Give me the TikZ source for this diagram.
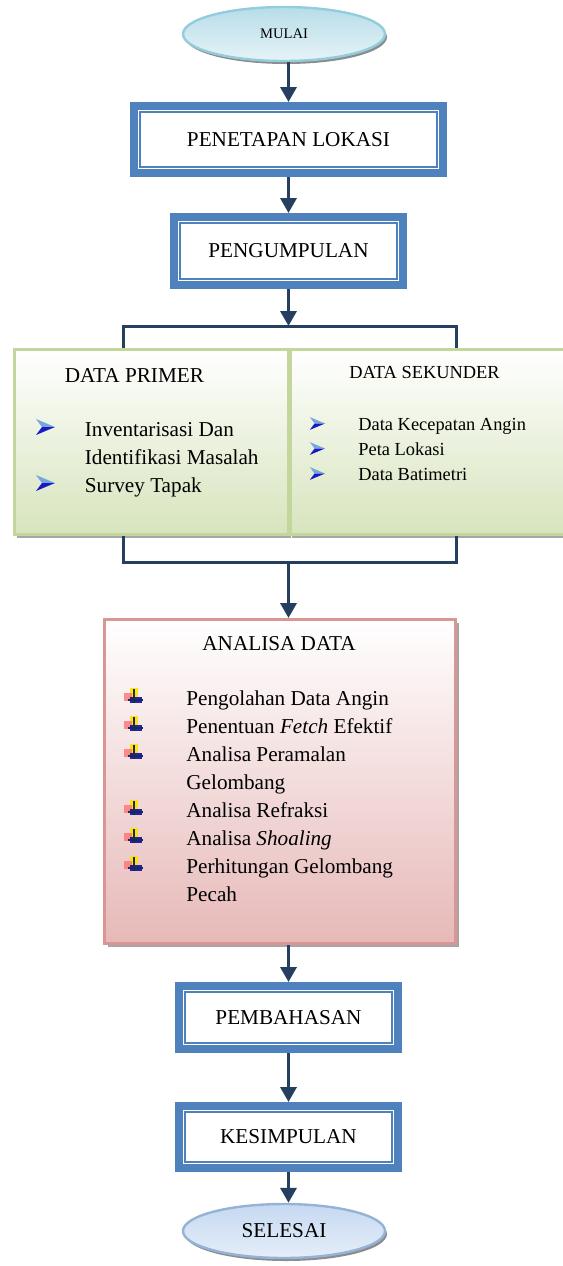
\documentclass[tikz,border=0pt]{standalone}
\usepackage{fontspec}
\setmainfont{Liberation Serif}
\usetikzlibrary{arrows.meta,shapes.geometric,calc,shadows}

\definecolor{navy}{HTML}{243F60}
\definecolor{frameblue}{HTML}{4F81BD}
\definecolor{greenline}{HTML}{C3D69B}
\definecolor{greenfill}{HTML}{D7E4BD}
\definecolor{pinkline}{HTML}{D99694}
\definecolor{pinkfill}{HTML}{E6B9B8}
\definecolor{startline}{HTML}{93CDDD}
\definecolor{startfill}{HTML}{B7DDE8}
\definecolor{endline}{HTML}{95B3D7}
\definecolor{endfill}{HTML}{C6D9F1}

\newcommand\txtmain{\fontsize{10.6}{12.7}\selectfont}
\newcommand\txtsmall{\fontsize{9.2}{11}\selectfont}
\newcommand\txttiny{\fontsize{7.3}{9}\selectfont}

\tikzset{
  flow/.style={draw=navy, line width=1.75pt, -{Triangle[width=8pt,length=7.5pt]}},
  bracket/.style={draw=navy, line width=1.5pt},
  framebox/.style={rectangle, draw=frameblue, line width=4pt, fill=white,
    inner sep=0pt, font=\txtmain},
  innerframe/.style={draw=frameblue, line width=1pt},
  terminal/.style={ellipse, line width=1.2pt, inner sep=0pt,
    minimum width=101pt, minimum height=27pt,
    drop shadow={shadow xshift=1pt, shadow yshift=-1.5pt, fill=black!45, opacity=1}},
  greenbox/.style={rectangle, draw=greenline, line width=1.5pt,
    top color=white, bottom color=greenfill, inner sep=0pt,
    drop shadow={shadow xshift=1pt, shadow yshift=-2pt, fill=black!35, opacity=1}},
  pinkbox/.style={rectangle, draw=pinkline, line width=1.5pt,
    top color=white, bottom color=pinkfill, inner sep=0pt,
    drop shadow={shadow xshift=1.5pt, shadow yshift=-1.5pt, fill=black!35, opacity=1}},
  lbl/.style={inner sep=0pt, anchor=base west, font=\txtmain},
  lblsmall/.style={inner sep=0pt, anchor=base west, font=\txtsmall},
  pics/chev/.style={code={
    \fill[cyan!55!blue!55] (-9,-8) -- (10,0) -- (-3,0) -- cycle;
    \fill[blue!75!black!90] (-3,0) -- (10,0) -- (-9,8) -- cycle;
  }},
  pics/handbullet/.style={code={
    \fill[yellow!85!orange, opacity=.9] (-4,-9) rectangle (4,0);
    \fill[red!55, opacity=.8] (-10,-4) rectangle (-2,4);
    \fill[blue!70!black, opacity=.85] (-4,0) rectangle (8,6);
    \draw[navy!70!black, line width=0.7pt] (0,-8) -- (0,6) (-6,3) -- (9,3);
  }},
}

\begin{document}
\begin{tikzpicture}[x=0.5pt, y=-0.5pt]
\useasboundingbox (0,0) rectangle (563,1266);
\clip (0,0) rectangle (563,1266);

% start and end terminals
\node[terminal, draw=startline, top color=startfill, bottom color=startfill!35,
  font=\txttiny] (mulai) at (284,34) {MULAI};
\node[terminal, draw=endline, top color=endfill, bottom color=endfill!45,
  font=\txtmain] (selesai) at (284,1231) {SELESAI};

% framed process boxes
\node[framebox, minimum width=154.5pt, minimum height=33.5pt] (lokasi) at (288.5,139.5) {PENETAPAN LOKASI};
\node[framebox, minimum width=114.5pt, minimum height=34pt] (kumpul) at (288.5,251) {PENGUMPULAN};
\node[framebox, minimum width=109.5pt, minimum height=31.5pt] (bahas) at (288.5,1017.5) {PEMBAHASAN};
\node[framebox, minimum width=109.5pt, minimum height=31pt] (simpul) at (288.5,1137) {KESIMPULAN};
\foreach \n in {lokasi,kumpul,bahas,simpul}
  \draw[innerframe] ($(\n.south west)+(4.9pt,4.9pt)$) rectangle ($(\n.north east)-(4.9pt,4.9pt)$);

% data boxes
\node[greenbox, minimum width=137pt, minimum height=92.25pt] (primer) at (151.5,441.75) {};
\node[greenbox, minimum width=155pt, minimum height=92.25pt] (sekunder) at (445,441.75) {};

\node[lbl] (tprimer) at (64.5,382) {DATA PRIMER};
\pic at (45,427) {chev};
\node[lbl] (p1) at (84.5,436) {Inventarisasi Dan};
\node[lbl] (p2) at (84.5,464) {Identifikasi Masalah};
\pic at (45,483) {chev};
\node[lbl] (p3) at (84.5,492) {Survey Tapak};

\node[lblsmall] (tsekunder) at (349,378) {DATA SEKUNDER};
\foreach \yy/\nm/\tx in {430/s1/Data Kecepatan Angin, 455/s2/Peta Lokasi, 480/s3/Data Batimetri}{
  \pic[scale=0.8] at (317,\yy-6.5) {chev};
  \node[lblsmall] (\nm) at (358,\yy) {\tx};
}

% analysis box
\node[pinkbox, minimum width=175.5pt, minimum height=162pt] (analisa) at (280,781.5) {};
\node[lbl] (tanalisa) at (202,650) {ANALISA DATA};
\node[lbl] (a1) at (186,705) {Pengolahan Data Angin};
\node[lbl] (a2) at (186,733) {Penentuan \textit{Fetch} Efektif};
\node[lbl] (a3) at (186,761) {Analisa Peramalan};
\node[lbl] (a3b) at (186,789) {Gelombang};
\node[lbl] (a4) at (186,817) {Analisa Refraksi};
\node[lbl] (a5) at (186,845) {Analisa \textit{Shoaling}};
\node[lbl] (a6) at (186,873) {Perhitungan Gelombang};
\node[lbl] (a6b) at (186,901) {Pecah};
\foreach \yy in {705,733,761,817,845,873}
  \pic at (134,\yy-8) {handbullet};

% connectors
\draw[flow] (lokasi.north |- mulai.south) -- (lokasi.north);
\draw[flow] (lokasi) -- (kumpul);

\coordinate (jt) at (288.5,326);
\coordinate (jtl) at (123,326);
\coordinate (jtr) at (456,326);
\draw[flow] (kumpul) -- (jt);
\draw[bracket] (jtl |- primer.north) -- (jtl) -- (jtr) -- (jtr |- sekunder.north);

\coordinate (jb) at (288.5,562);
\coordinate (jbl) at (123,562);
\coordinate (jbr) at (456,562);
\draw[bracket] (jbl |- primer.south) -- (jbl) -- (jbr) -- (jbr |- sekunder.south);
\draw[flow] (jb) -- (jb |- analisa.north);

\draw[flow] (bahas.north |- analisa.south) -- (bahas.north);
\draw[flow] (bahas) -- (simpul);
\draw[flow] (simpul.south) -- (simpul.south |- selesai.north);
\end{tikzpicture}
\end{document}
